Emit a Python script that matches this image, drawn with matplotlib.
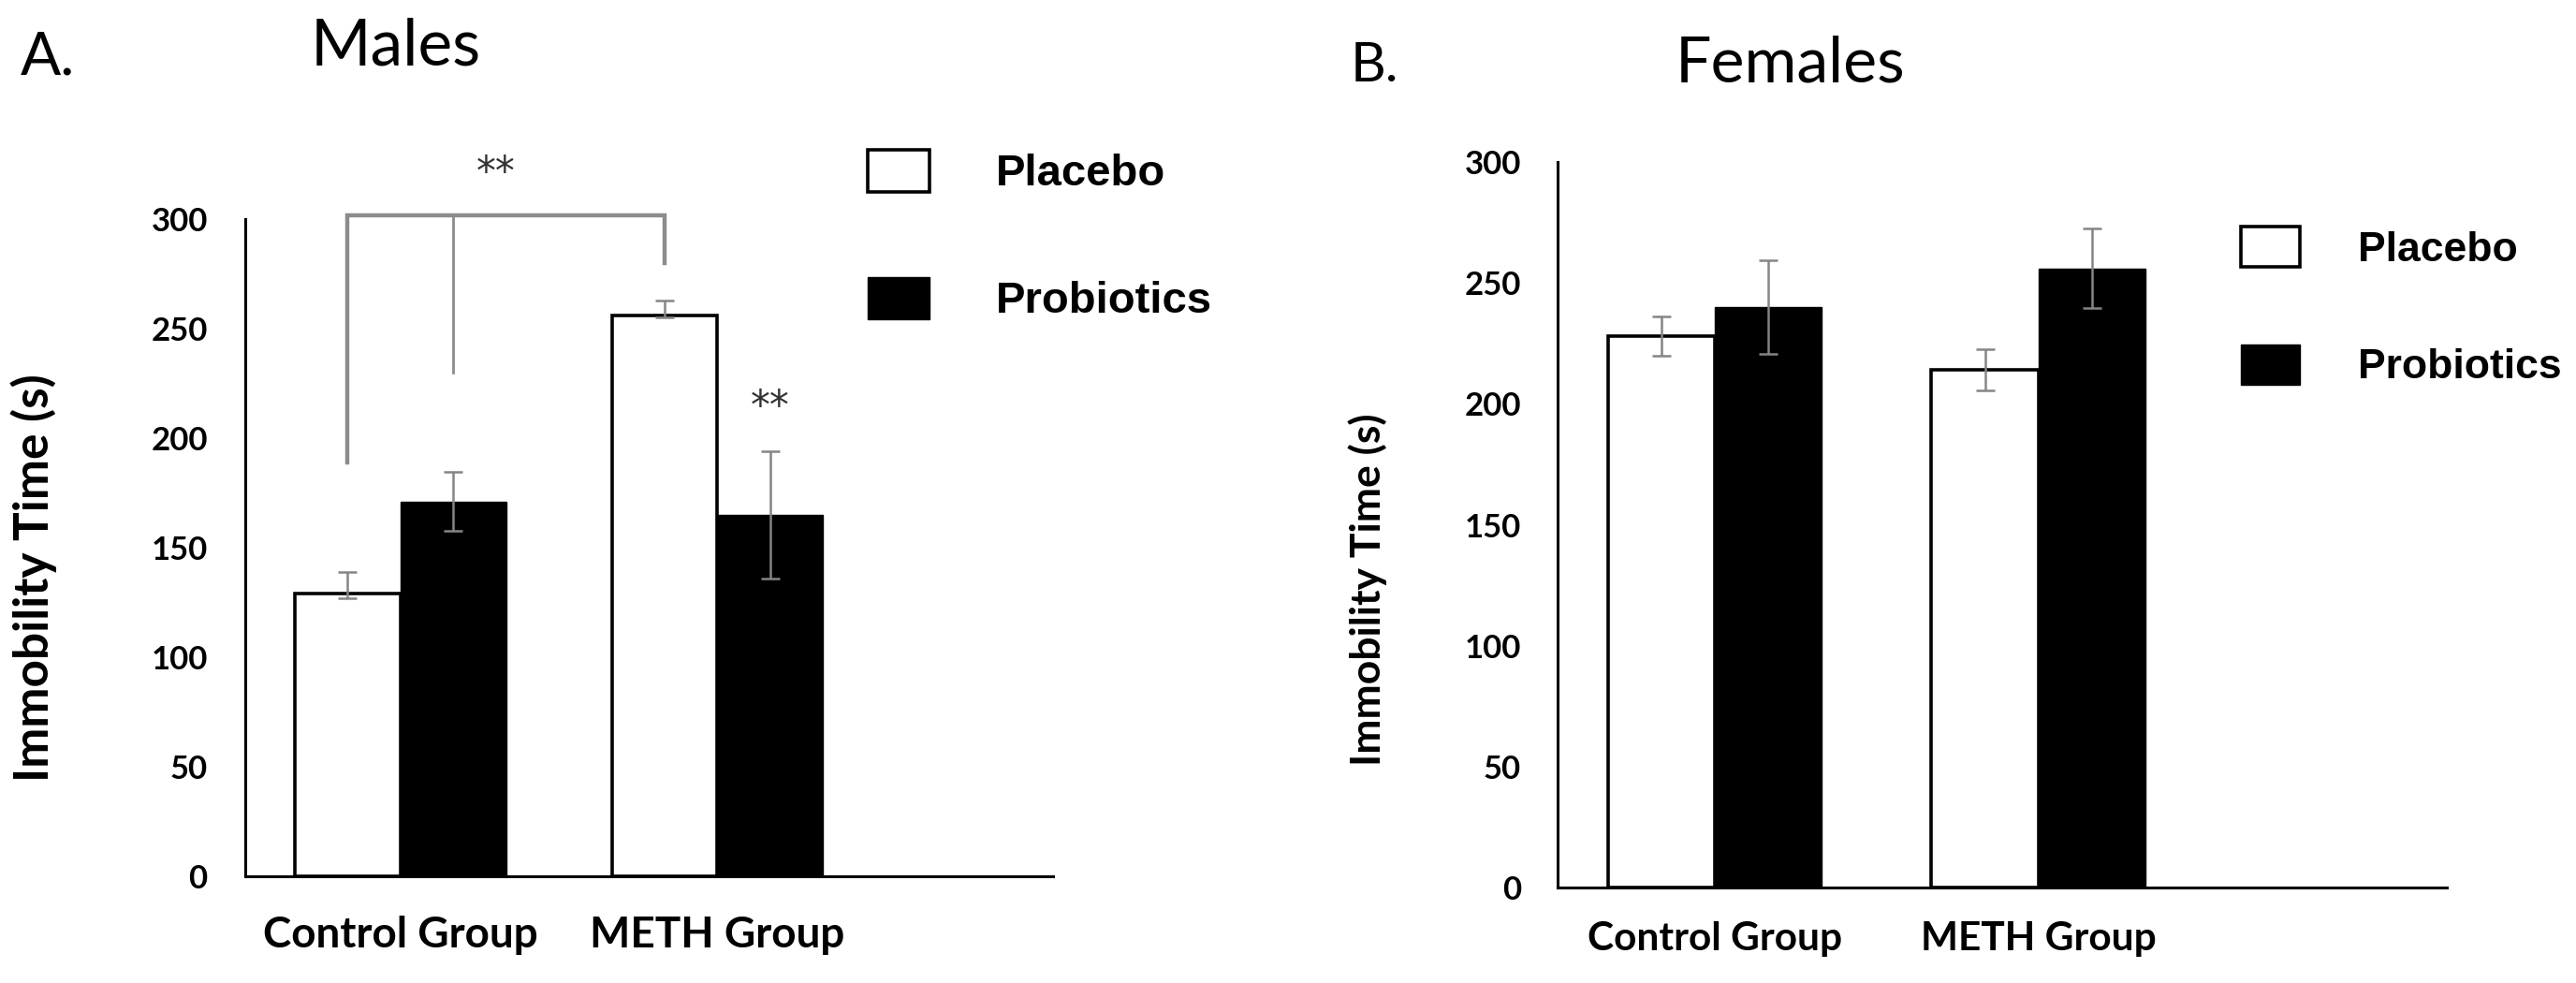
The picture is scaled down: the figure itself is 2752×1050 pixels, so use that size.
import numpy as np
import matplotlib
matplotlib.use('Agg')
import matplotlib.pyplot as plt

groups = ['Control Group', 'METH Group']
series = ['Placebo', 'Probiotics']

males_placebo = [129, 256]
males_placebo_err_lo = [2, 1]
males_placebo_err_hi = [10, 7]
males_probiotics = [171, 165]
males_probiotics_err = [13.5, 29]

females_placebo = [228, 214]
females_placebo_err = [8, 8.5]
females_probiotics = [240, 256]
females_probiotics_err = [19.5, 16.5]

y_ticks = [0, 50, 100, 150, 200, 250, 300]

# significance bracket for males (placebo control vs METH, probiotic control)
bracket_y = 301.5
bracket_ends = [189, 230, 280]
stars_main_y = 321
stars_meth_y = 214

plt.rcParams['font.family'] = ['Lato', 'DejaVu Sans']

W, H = 2752, 1050
fig = plt.figure(figsize=(W / 100, H / 100), dpi=100)


def px_box(x0, x1, y_top, y_bot):
    return [x0 / W, 1 - y_bot / H, (x1 - x0) / W, (y_bot - y_top) / H]


def draw_panel(ax, placebo, placebo_err, probiotics, probiotics_err, width,
               xlim, tick_size, cat_size, ylab_size, ypad, xpad, ylab_pos):
    x = np.arange(len(groups))
    ax.bar(x - width / 2, placebo, width, color='white', edgecolor='black',
           linewidth=2.6, label=series[0], zorder=2)
    ax.bar(x + width / 2, probiotics, width, color='black', edgecolor='black',
           linewidth=1.0, label=series[1], zorder=2)
    ax.errorbar(x - width / 2, placebo, yerr=placebo_err, fmt='none',
                ecolor='#858585', elinewidth=1.8, capsize=7, capthick=1.8, zorder=3)
    ax.errorbar(x + width / 2, probiotics, yerr=probiotics_err, fmt='none',
                ecolor='#858585', elinewidth=1.8, capsize=7, capthick=1.8, zorder=3)
    ax.set_xlim(*xlim)
    ax.set_ylim(0, 300)
    ax.set_yticks(y_ticks)
    ax.set_xticks(x)
    ax.set_xticklabels(groups, fontsize=cat_size, fontweight='bold')
    for lab in ax.get_yticklabels():
        lab.set_fontsize(tick_size)
        lab.set_fontweight('bold')
    ax.tick_params(axis='both', length=0)
    ax.tick_params(axis='y', pad=ypad)
    ax.tick_params(axis='x', pad=xpad)
    for s in ['top', 'right']:
        ax.spines[s].set_visible(False)
    for s in ['left', 'bottom']:
        ax.spines[s].set_linewidth(2.2)
        ax.spines[s].set_color('black')
    ax.set_ylabel('Immobility Time (s)', fontsize=ylab_size, fontweight='bold')
    ax.yaxis.set_label_coords(*ylab_pos)


# Panel A: males
axA = fig.add_axes(px_box(262, 1125, 234, 936))
draw_panel(axA, males_placebo, [males_placebo_err_lo, males_placebo_err_hi],
           males_probiotics, males_probiotics_err, 0.333, (-0.49, 2.06),
           25, 33, 37, 29, 30, (-0.233, 0.454))

wA = 0.333
gray = '#8c8c8c'
axA.plot([-wA / 2, -wA / 2, 1 - wA / 2, 1 - wA / 2],
         [bracket_ends[0], bracket_y, bracket_y, bracket_ends[2]],
         color=gray, linewidth=3.2, solid_joinstyle='miter', zorder=1,
         clip_on=False)
axA.plot([wA / 2, wA / 2], [bracket_y, bracket_ends[1]], color=gray,
         linewidth=2.0, zorder=1, clip_on=False)
axA.text(0.3, stars_main_y, '**', ha='center', va='center', fontsize=30,
         color='#333333', family='DejaVu Sans', clip_on=False)
axA.text(1 + wA / 2, stars_meth_y, '**', ha='center', va='center', fontsize=30,
         color='#333333', family='DejaVu Sans')

axA.legend(loc='upper left', bbox_to_anchor=(927 / W, 1 - 160 / H),
           bbox_transform=fig.transFigure, frameon=False, borderpad=0,
           borderaxespad=0, handlelength=1.4, handleheight=1.08,
           handletextpad=1.5, labelspacing=1.85,
           prop={'family': 'Liberation Sans', 'weight': 'bold', 'size': 34})

fig.text(22 / W, 1 - 80 / H, 'A.', fontsize=46, ha='left', va='baseline')
fig.text(332 / W, 1 - 70 / H, 'Males', fontsize=50, ha='left', va='baseline')

# Panel B: females
axB = fig.add_axes(px_box(1664, 2614, 173, 948))
draw_panel(axB, females_placebo, females_placebo_err,
           females_probiotics, females_probiotics_err, 0.33, (-0.486, 2.263),
           25, 30.5, 32, 28, 26, (-0.1916, 0.41))

axB.legend(loc='upper left', bbox_to_anchor=(2394 / W, 1 - 242 / H),
           bbox_transform=fig.transFigure, frameon=False, borderpad=0,
           borderaxespad=0, handlelength=1.42, handleheight=1.12,
           handletextpad=1.4, labelspacing=1.8,
           prop={'family': 'Liberation Sans', 'weight': 'bold', 'size': 32})

fig.text(1443 / W, 1 - 87 / H, 'B.', fontsize=42, ha='left', va='baseline')
fig.text(1790 / W, 1 - 87 / H, 'Females', fontsize=49, ha='left', va='baseline')

fig.savefig('out.png', dpi=100, facecolor='white')
